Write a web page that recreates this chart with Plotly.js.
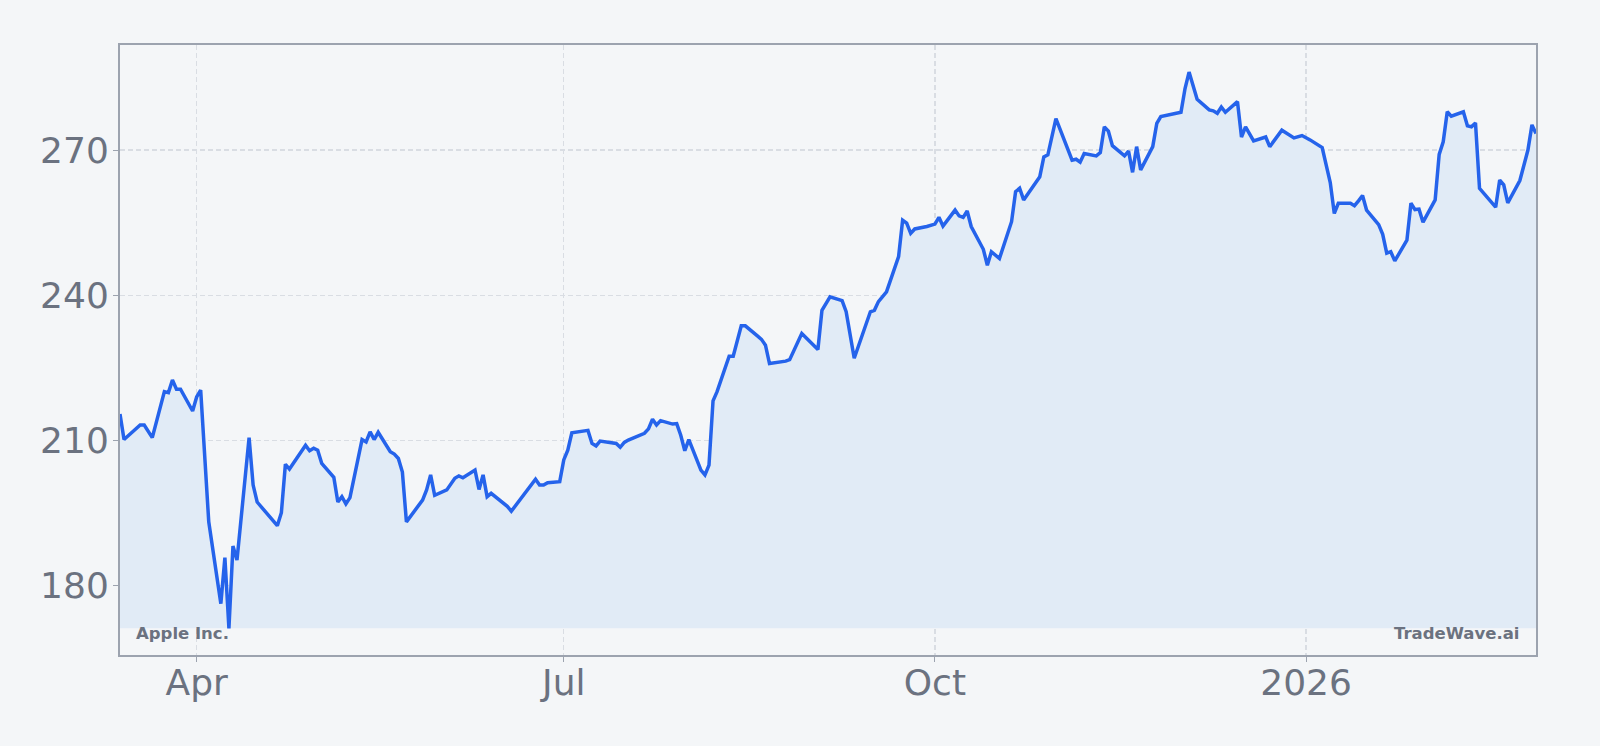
<!DOCTYPE html>
<html>
<head>
<meta charset="utf-8">
<script src="https://cdn.plot.ly/plotly-3.0.1.min.js"></script>
<style>
  html, body { margin: 0; padding: 0; background: #f4f6f8; }
  #chart { width: 1600px; height: 746px; }
</style>
</head>
<body>
<div id="chart"></div>
<script>
// ---------- DATA ----------
const dates = [
  "2025-03-13","2025-03-14","2025-03-18","2025-03-19","2025-03-21","2025-03-24","2025-03-25","2025-03-26","2025-03-27","2025-03-28","2025-03-31",
  "2025-04-01","2025-04-02","2025-04-03","2025-04-04","2025-04-07","2025-04-08","2025-04-09","2025-04-10","2025-04-11","2025-04-14","2025-04-15",
  "2025-04-16","2025-04-21","2025-04-22","2025-04-23","2025-04-24","2025-04-28","2025-04-29","2025-04-30",
  "2025-05-01","2025-05-02","2025-05-05","2025-05-06","2025-05-07","2025-05-08","2025-05-09","2025-05-12","2025-05-13","2025-05-14","2025-05-15",
  "2025-05-16","2025-05-19","2025-05-20","2025-05-21","2025-05-22","2025-05-23","2025-05-27","2025-05-28","2025-05-29","2025-05-30",
  "2025-06-02","2025-06-04","2025-06-05","2025-06-06","2025-06-09","2025-06-10","2025-06-11","2025-06-12","2025-06-13","2025-06-16","2025-06-17",
  "2025-06-18","2025-06-24","2025-06-25","2025-06-26","2025-06-27","2025-06-30",
  "2025-07-01","2025-07-02","2025-07-03","2025-07-07","2025-07-08","2025-07-09","2025-07-10","2025-07-14","2025-07-15","2025-07-16","2025-07-17",
  "2025-07-21","2025-07-22","2025-07-23","2025-07-24","2025-07-25","2025-07-28","2025-07-29","2025-07-30","2025-07-31",
  "2025-08-01","2025-08-04","2025-08-05","2025-08-06","2025-08-07","2025-08-08","2025-08-11","2025-08-12","2025-08-14","2025-08-15","2025-08-18",
  "2025-08-19","2025-08-20","2025-08-21","2025-08-25","2025-08-26","2025-08-29",
  "2025-09-02","2025-09-03","2025-09-05","2025-09-08","2025-09-09","2025-09-11","2025-09-15","2025-09-16","2025-09-17","2025-09-19","2025-09-22",
  "2025-09-23","2025-09-24","2025-09-25","2025-09-26","2025-09-29",
  "2025-10-01","2025-10-02","2025-10-03","2025-10-06","2025-10-07","2025-10-08","2025-10-09","2025-10-10","2025-10-13","2025-10-14","2025-10-15",
  "2025-10-17","2025-10-20","2025-10-21","2025-10-22","2025-10-23","2025-10-27","2025-10-28","2025-10-29","2025-10-31",
  "2025-11-04","2025-11-05","2025-11-06","2025-11-07","2025-11-10","2025-11-11","2025-11-12","2025-11-13","2025-11-14","2025-11-17","2025-11-18",
  "2025-11-19","2025-11-20","2025-11-21","2025-11-24","2025-11-25","2025-11-26",
  "2025-12-01","2025-12-02","2025-12-03","2025-12-04","2025-12-05","2025-12-08","2025-12-09","2025-12-10","2025-12-11","2025-12-12","2025-12-15",
  "2025-12-16","2025-12-17","2025-12-19","2025-12-22","2025-12-23","2025-12-26","2025-12-29","2025-12-31",
  "2026-01-02","2026-01-05","2026-01-06","2026-01-07","2026-01-08","2026-01-09","2026-01-12","2026-01-13","2026-01-14","2026-01-15","2026-01-16",
  "2026-01-19","2026-01-20","2026-01-21","2026-01-22","2026-01-23","2026-01-26","2026-01-27","2026-01-28","2026-01-29","2026-01-30",
  "2026-02-02","2026-02-03","2026-02-04","2026-02-05","2026-02-06","2026-02-09","2026-02-10","2026-02-11","2026-02-12","2026-02-13","2026-02-17",
  "2026-02-18","2026-02-19","2026-02-20","2026-02-23","2026-02-25","2026-02-26","2026-02-27"
];

const prices = [
  215.5,210.2,213.2,213.2,210.6,220.1,219.9,222.5,220.6,220.6,216.1,
  219.0,220.4,208.0,193.2,176.3,185.8,171.2,188.2,185.3,210.6,200.8,
  197.3,192.4,195.1,205.1,204.1,209.0,207.9,208.4,
  208.0,205.3,202.4,197.3,198.4,196.9,198.2,210.2,209.7,211.8,210.2,
  211.7,207.7,207.2,206.3,203.5,193.2,197.7,199.8,202.9,198.7,
  199.8,202.2,202.7,202.3,203.9,199.9,202.9,198.4,199.1,196.9,196.4,
  195.4,202.0,200.8,200.8,201.3,201.5,
  206.0,208.0,211.6,212.1,209.4,208.9,209.9,209.4,208.6,209.6,210.1,
  211.5,212.4,214.4,213.2,214.1,213.4,213.5,211.1,207.9,
  210.2,203.9,202.9,204.9,218.2,220.1,227.4,227.4,233.7,233.7,231.6,
  230.9,229.7,225.9,226.4,226.7,232.1,
  228.8,236.9,239.7,238.9,236.6,227.0,236.6,236.9,238.7,240.7,248.0,
  255.5,254.9,252.8,253.7,254.2,
  254.7,256.1,254.3,257.6,256.4,256.1,257.4,254.2,249.5,246.2,249.0,
  247.6,255.2,261.4,262.1,259.7,264.5,268.6,269.0,276.5,
  267.9,268.1,267.5,269.3,268.8,269.5,274.8,273.9,270.9,268.8,269.8,
  265.4,270.7,265.9,270.7,275.5,276.9,
  277.8,282.7,286.1,283.4,280.5,278.3,278.1,277.6,278.9,277.8,280.0,
  272.7,274.8,271.9,272.7,270.7,274.1,272.5,273.0,
  272.1,270.5,266.9,263.3,256.9,259.0,259.0,258.5,259.5,260.6,257.6,
  254.6,252.6,248.7,249.0,247.1,251.4,259.0,257.7,257.8,255.1,
  259.7,269.1,271.7,277.9,277.0,277.9,275.0,274.8,275.6,262.1,258.2,
  263.8,262.8,259.1,263.7,270.0,275.2,273.4
];

const xTickVals = ["2025-04-01", "2025-07-01", "2025-10-01", "2026-01-01"];
const xTickText = ["Apr", "Jul", "Oct", "2026"];
const yTickVals = [180, 210, 240, 270];

const companyName = "Apple Inc.";
const brandName = "TradeWave.ai";

// ---------- CHART ----------
const baseLevel = Math.min(...prices);

const baseTrace = {
  x: dates,
  y: dates.map(() => baseLevel),
  type: "scatter",
  mode: "lines",
  line: { width: 0, color: "rgba(0,0,0,0)" },
  hoverinfo: "skip",
  showlegend: false
};

const priceTrace = {
  x: dates,
  y: prices,
  type: "scatter",
  mode: "lines",
  fill: "tonexty",
  fillcolor: "#e1ebf6",
  line: { color: "#2563eb", width: 3.5 },
  showlegend: false
};

const tickFont = { family: "DejaVu Sans", size: 36, color: "#6b7280" };
const labelFont = { family: "DejaVu Sans", size: 16.5, color: "#6b7280", weight: "bold" };

// shared axis look
function axisStyle(extra) {
  return Object.assign({
    tickfont: tickFont,
    ticks: "outside",
    ticklen: 5,
    tickcolor: "#9ca3af",
    showgrid: true,
    gridcolor: "#d9dde3",
    griddash: "5px,3px",
    gridwidth: 1.2,
    showline: true,
    linecolor: "#9ca3af",
    linewidth: 2,
    mirror: true,
    zeroline: false
  }, extra);
}

const layout = {
  width: 1600,
  height: 746,
  paper_bgcolor: "#f4f6f8",
  plot_bgcolor: "#f4f6f8",
  margin: { l: 120, r: 64, t: 45, b: 91 },
  showlegend: false,
  xaxis: axisStyle({
    type: "date",
    range: [dates[0], dates[dates.length - 1]],
    tickvals: xTickVals,
    ticktext: xTickText,
    ticklabelstandoff: -10
  }),
  yaxis: axisStyle({
    range: [165.7, 291.7],
    tickvals: yTickVals,
    ticklabelstandoff: -3
  }),
  annotations: [
    {
      text: companyName,
      xref: "paper", yref: "paper",
      x: 0.0096, y: 0.036,
      xanchor: "left", yanchor: "middle",
      showarrow: false,
      font: labelFont
    },
    {
      text: brandName,
      xref: "paper", yref: "paper",
      x: 0.9894, y: 0.036,
      xanchor: "right", yanchor: "middle",
      showarrow: false,
      font: labelFont
    }
  ]
};

Plotly.newPlot("chart", [baseTrace, priceTrace], layout, { displayModeBar: false, staticPlot: true });
</script>
</body>
</html>
